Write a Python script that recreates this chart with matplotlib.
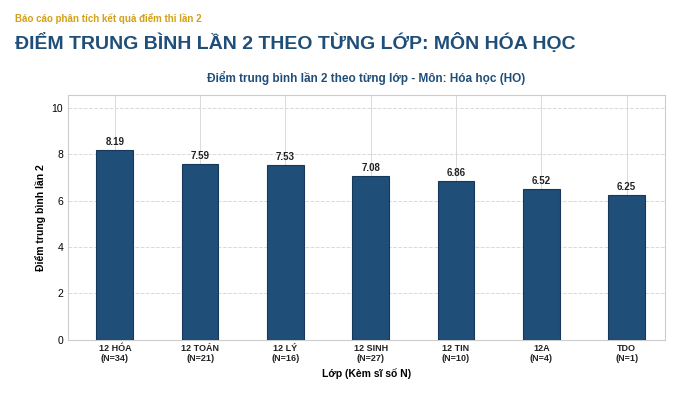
import matplotlib
matplotlib.use("Agg")
import matplotlib.pyplot as plt

plt.rcParams['font.family'] = ['Liberation Sans', 'DejaVu Sans']

classes = ["12 HÓA", "12 TOÁN", "12 LÝ", "12 SINH", "12 TIN", "12A", "TDO"]
counts = [34, 21, 16, 27, 10, 4, 1]
scores = [8.19, 7.59, 7.53, 7.08, 6.86, 6.52, 6.25]

fig = plt.figure(figsize=(7, 4.07), dpi=100)
fig.text(0.021, 0.955, "Báo cáo phân tích kết quả điểm thi lần 2", color="#d4a017",
         fontsize=7, fontweight="bold", va="center")
fig.text(0.021, 0.895, "ĐIỂM TRUNG BÌNH LẦN 2 THEO TỪNG LỚP: MÔN HÓA HỌC", color="#1f4e79",
         fontsize=14, fontweight="bold", va="center")

ax = fig.add_axes([0.097, 0.165, 0.853, 0.602])
x = range(len(classes))
ax.bar(x, scores, width=0.43, color="#1f4e79", edgecolor="#16395a", linewidth=0.8, zorder=3)
for i, v in zip(x, scores):
    ax.text(i, v + 0.12, f"{v:.2f}", ha="center", va="bottom", fontsize=7, fontweight="bold", color="#222")
ax.set_xticks(list(x))
ax.set_xticklabels([f"{c}\n(N={n})" for c, n in zip(classes, counts)], fontsize=6.5, fontweight="bold", color="#222")
ax.set_ylim(0, 10.56)
ax.set_xlim(-0.55, 6.45)
ax.set_yticks(range(0, 11, 2))
ax.tick_params(axis="y", labelsize=7.5, length=0)
ax.tick_params(axis="x", length=0, pad=3)
ax.yaxis.grid(True, linestyle="--", color="#d9d9d9", linewidth=0.7, zorder=0)
ax.xaxis.grid(True, linestyle="-", color="#d9d9d9", linewidth=0.7, zorder=0)
for s in ax.spines.values():
    s.set_color("#cccccc"); s.set_linewidth(0.8)
ax.set_ylabel("Điểm trung bình lần 2", fontsize=7.5, fontweight="bold")
ax.set_xlabel("Lớp (Kèm sĩ số N)", fontsize=7.5, fontweight="bold", labelpad=3)
ax.set_title("Điểm trung bình lần 2 theo từng lớp - Môn: Hóa học (HO)", fontsize=8.5,
             fontweight="bold", color="#1f4e79", pad=9)
fig.savefig("out.png", dpi=100)
